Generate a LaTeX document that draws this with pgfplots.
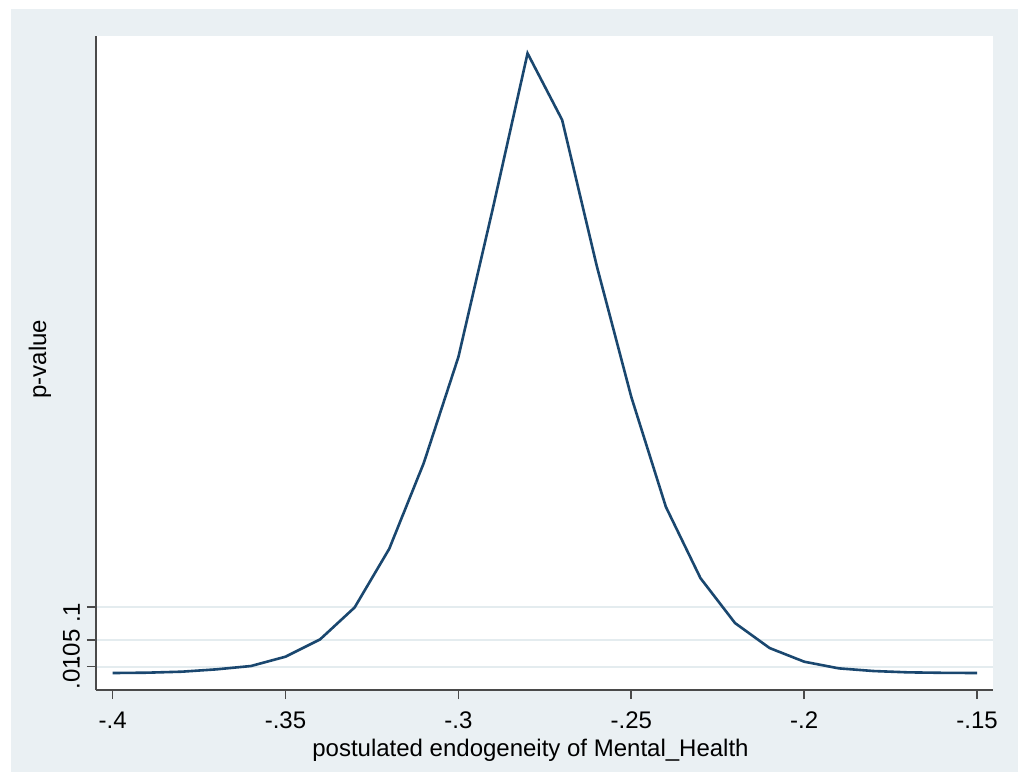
\documentclass[border=0pt]{standalone}
\usepackage{pgfplots}
\pgfplotsset{compat=1.18}
\usepackage{fontspec}
\setmainfont{Liberation Sans}
\definecolor{bg}{HTML}{EAF0F3}
\definecolor{gridc}{HTML}{E4ECEF}
\definecolor{stnavy}{RGB}{26,71,111}
\definecolor{axgray}{HTML}{4A4A4A}
\begin{document}
\begin{tikzpicture}[x=1pt,y=1pt]
\path[use as bounding box, fill=white] (0,0) rectangle (512,386.5);
\fill[bg] (5.5,0.5) rectangle (509,382);
\begin{axis}[
  at={(48pt,41.5pt)}, anchor=south west,
  scale only axis, width=448.5pt, height=327pt,
  xmin=-0.4048, xmax=-0.1454, ymin=-0.025, ymax=0.957,
  axis background/.style={fill=white},
  axis lines=left, axis line style={-, axgray, line width=0.8pt},
  xtick={-0.4,-0.35,-0.3,-0.25,-0.2,-0.15},
  xticklabels={-.4,-.35,-.3,-.25,-.2,-.15},
  ytick={0.01,0.05,0.1},
  yticklabels={.01,.05,.1},
  tick align=outside, major tick length=4.5pt,
  tick style={axgray, line width=0.8pt},
  ymajorgrids, grid style={gridc, line width=1pt},
  tick label style={font=\fontsize{12}{14}\selectfont},
  xticklabel style={yshift=-3pt},
  yticklabel style={rotate=90, anchor=south, xshift=-3pt},
  xlabel={postulated endogeneity of Mental\_Health},
  ylabel={p-value},
  every axis x label/.style={at={(axis description cs:0.5,0)}, yshift=-30pt, xshift=-7pt, anchor=center, font=\fontsize{12}{14}\selectfont},
  every axis y label/.style={at={(axis description cs:0,0.5)}, xshift=-28pt, yshift=2pt, anchor=center, rotate=90, font=\fontsize{12}{14}\selectfont},
]
\addplot[stnavy, line width=1.3pt] table {
x y
-0.40 0.0005
-0.39 0.0010
-0.38 0.0025
-0.37 0.0060
-0.36 0.0110
-0.35 0.0250
-0.34 0.0510
-0.33 0.0990
-0.32 0.1870
-0.31 0.3160
-0.30 0.4750
-0.29 0.6990
-0.28 0.9310
-0.27 0.8310
-0.26 0.6120
-0.25 0.4150
-0.24 0.2500
-0.23 0.1430
-0.22 0.0755
-0.21 0.0380
-0.20 0.0175
-0.19 0.0075
-0.18 0.0035
-0.17 0.0015
-0.16 0.0008
-0.15 0.0005
};
\end{axis}
\end{tikzpicture}
\end{document}
